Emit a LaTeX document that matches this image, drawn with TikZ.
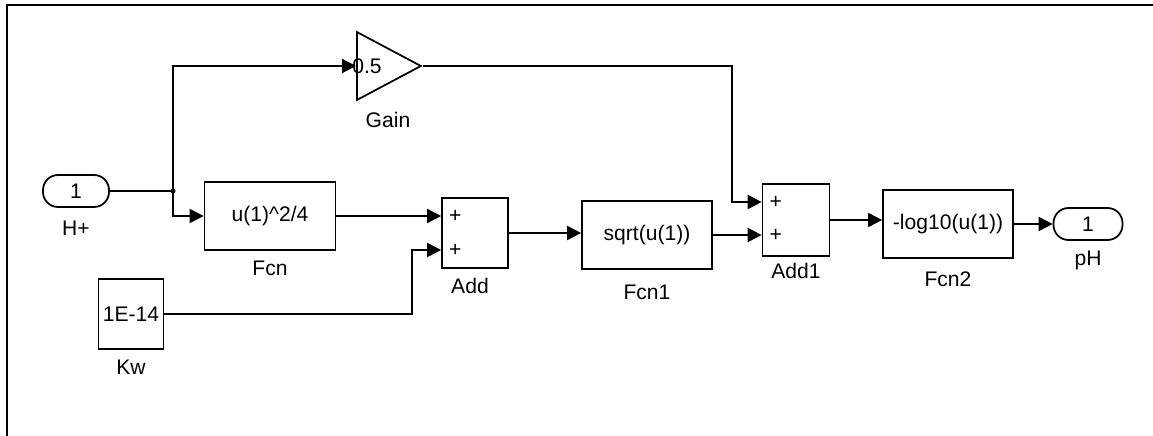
\documentclass[tikz,border=0pt]{standalone}
\usepackage{fontspec}
\setmainfont{Liberation Sans}
\usetikzlibrary{arrows.meta,shapes.geometric,calc}
\tikzset{
 blk/.style={draw,line width=1pt,minimum width=2.62cm,minimum height=1.36cm,inner sep=0pt},
 sumblk/.style={draw,line width=1pt,minimum width=1.32cm,minimum height=1.4cm,inner sep=0pt},
 port/.style={draw,line width=1pt,rounded corners=0.3cm,minimum width=1.32cm,minimum height=0.64cm,inner sep=0pt},
 gainblk/.style={draw,line width=1pt,isosceles triangle,isosceles triangle stretches,minimum width=1.36cm,minimum height=1.28cm,inner sep=0pt},
 wire/.style={line width=1.2pt},
 sig/.style={line width=1.2pt,-{Triangle[length=0.28cm,width=0.28cm]}},
}
\begin{document}
\begin{tikzpicture}[x=0.02cm,y=-0.02cm,font=\fontsize{12}{14}\selectfont]
\useasboundingbox (0,0) rectangle (1153,436);
\draw[line width=1.2pt] (7,436) -- (7,5) -- (1153,5);
% blocks
\node[port] (inH) at (76,191) {1};
\node (lblH) at (76,228) {H+};
\node[gainblk,anchor=west] (gain) at (356,66) {};
\node (gval) at (367,66) {0.5};
\node (lblgain) at (388,120) {Gain};
\node[blk] (fcn) at (270,216) {u(1)\^{}2/4};
\node (lblfcn) at (270,268) {Fcn};
\node[blk,minimum width=1.3cm,minimum height=1.4cm] (kw) at (131,314) {1E-14};
\node (lblkw) at (131,367) {Kw};
\node[sumblk] (add) at (475,233) {};
\node (lbladd) at (470,286) {Add};
\node[blk,minimum width=2.6cm] (fcn1) at (647,235) {sqrt(u(1))};
\node (lblfcn1) at (647,292) {Fcn1};
\node[sumblk,minimum width=1.34cm,minimum height=1.44cm] (add1) at (796,220) {};
\node (lbladd1) at (796,271) {Add1};
\node[blk,minimum width=2.6cm] (fcn2) at (948,224) {-log10(u(1))};
\node (lblfcn2) at (948,279) {Fcn2};
\node[port,minimum width=1.38cm] (outpH) at (1088,224) {1};
\node (lblpH) at (1088,260) {pH};
% ports of the sums
\coordinate (addin1) at ($(add.west)+(0,-17)$);
\coordinate (addin2) at ($(add.west)+(0,17)$);
\coordinate (add1in1) at ($(add1.west)+(0,-18)$);
\coordinate (add1in2) at (add1.west |- fcn1.east);
\node[right=1pt] (addp1) at (addin1) {+};
\node[right=1pt] (addp2) at (addin2) {+};
\node[right=1pt] (add1p1) at (add1in1) {+};
\node[right=1pt] (add1p2) at (add1in2) {+};
% signals
\coordinate (br) at (173,191);
\draw[wire] (inH.east) -- (br);
\fill (br) circle[radius=2.5];
\draw[sig] (br) |- (gain.west);
\draw[sig] (br) |- (fcn.west);
\draw[sig] (fcn.east) -- (fcn.east -| add.west);
\draw[sig] (kw.east) -| ([xshift=-0.58cm]addin2) -- (addin2);
\draw[sig] (add.east) -- (add.east -| fcn1.west);
\draw[sig] (gain.east) -| ([xshift=-0.6cm]add1in1) -- (add1in1);
\draw[sig] (fcn1.east) -- (add1in2);
\draw[sig] (add1.east) -- (add1.east -| fcn2.west);
\draw[sig] (fcn2.east) -- (outpH.west);
\end{tikzpicture}
\end{document}
